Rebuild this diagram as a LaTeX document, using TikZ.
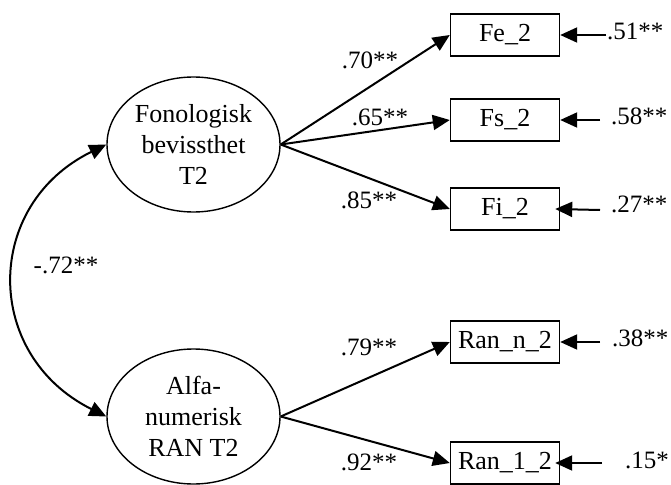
\documentclass[tikz,border=0pt]{standalone}
\usepackage{fontspec}
\setmainfont{Liberation Serif}
\usetikzlibrary{shapes.geometric,arrows.meta}
\begin{document}
\begin{tikzpicture}[x=1pt,y=-1pt,
  latent/.style={draw, ellipse, line width=1.4pt, minimum width=173pt, minimum height=135pt, inner sep=0pt, align=center, font=\fontsize{26}{31}\selectfont},
  obs/.style={draw, rectangle, line width=1.4pt, minimum width=109pt, minimum height=42pt, inner sep=0pt, font=\fontsize{26}{31}\selectfont},
  arr/.style={-{Triangle[length=17pt,width=15pt]}, line width=2pt},
  dblarr/.style={{Triangle[length=17pt,width=15pt]}-{Triangle[length=17pt,width=15pt]}, line width=2pt},
  lab/.style={font=\fontsize{25}{30}\selectfont, inner sep=0pt}]
\useasboundingbox (0,0) rectangle (671,484);
\node[latent] (F) at (193.5,144.5) {Fonologisk\\bevissthet\\T2};
\node[latent] (R) at (193.5,416.5) {Alfa-\\numerisk\\RAN T2};
\node[obs] (Fe) at (505,35) {Fe\_2};
\node[obs] (Fs) at (505,120) {Fs\_2};
\node[obs] (Fi) at (505,209) {Fi\_2};
\node[obs] (Rn) at (505,342) {Ran\_n\_2};
\node[obs] (Rl) at (505,463) {Ran\_1\_2};
% loadings
\draw[arr] (F.east) -- (Fe.west);
\draw[arr] (F.east) -- (Fs.west);
\draw[arr] (F.east) -- (Fi.west);
\draw[arr] (R.east) -- (Rn.west);
\draw[arr] (R.east) -- (Rl.west);
\node[lab] (l1) at (370,60) {.70**};
\node[lab] (l2) at (380,117) {.65**};
\node[lab] (l3) at (369,200) {.85**};
\node[lab] (l4) at (369,347) {.79**};
\node[lab] (l5) at (369,462) {.92**};
% covariance
\draw[dblarr] (F.west) .. controls (-17,205) and (-17,355) .. (R.west);
\node[lab] (lc) at (66,265) {-.72**};
% errors
\coordinate (eFe) at (606,35);
\coordinate (eFs) at (600,120);
\coordinate (eFi) at (600,210);
\coordinate (eRn) at (600,342);
\coordinate (eRl) at (602,463);
\draw[arr] (eFe) -- (Fe.east);
\draw[arr] (eFs) -- (Fs.east);
\draw[arr] (eFi) -- ([xshift=-5pt]Fi.east);
\draw[arr] (eRn) -- (Rn.east);
\draw[arr] (eRl) -- ([xshift=-5pt]Rl.east);
\node[lab,anchor=west] (r1) at (607,31) {.51**};
\node[lab,anchor=west] (r2) at (611,116) {.58**};
\node[lab,anchor=west] (r3) at (611,204) {.27**};
\node[lab,anchor=west] (r4) at (612,338) {.38**};
\node[lab,anchor=west] (r5) at (625,460) {.15*};
\end{tikzpicture}
\end{document}
